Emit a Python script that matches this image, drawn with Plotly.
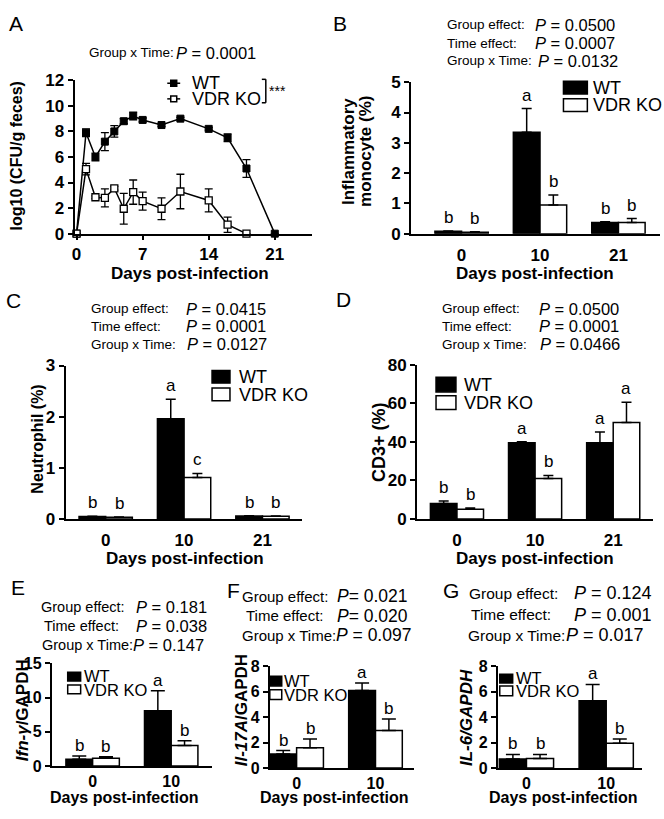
import plotly.graph_objects as go

W, H = 664, 819
FONT = "Liberation Sans, Arial, sans-serif"

# ---- A: fecal shedding, log10 CFU/g feces ----
cfu_days_wt = [0, 1, 2, 3, 4, 5, 6, 7, 9, 11, 14, 16, 18, 21]
cfu_wt = [0, 7.9, 6.0, 7.2, 8.0, 8.8, 9.2, 8.9, 8.5, 9.0, 8.2, 7.5, 5.1, 0]
cfu_wt_err = [0, 0.3, 0.3, 0.7, 0.45, 0.2, 0.3, 0.15, 0.1, 0.1, 0.1, 0.3, 0.7, 0]
cfu_days_ko = [0, 1, 2, 3, 4, 5, 6, 7, 9, 11, 14, 16, 18]
cfu_ko = [0, 5.05, 2.85, 2.8, 3.55, 1.95, 3.25, 2.55, 1.95, 3.3, 2.6, 0.7, 0]
cfu_ko_err = [0, 0.45, 0.1, 0.7, 0.15, 1.2, 0.95, 0.7, 0.85, 1.35, 0.9, 0.6, 0]

days3 = ["0", "10", "21"]
days2 = ["0", "10"]

# ---- B: inflammatory monocytes (%) ----
mono_wt = [0.08, 3.35, 0.37]
mono_wt_err = [0.01, 0.78, 0.02]
mono_ko = [0.05, 0.95, 0.37]
mono_ko_err = [0.01, 0.33, 0.13]
mono_wt_sig = ["b", "a", "b"]
mono_ko_sig = ["b", "b", "b"]

# ---- C: neutrophils (%) ----
neut_wt = [0.045, 1.96, 0.055]
neut_wt_err = [0.005, 0.38, 0.005]
neut_ko = [0.03, 0.81, 0.05]
neut_ko_err = [0.005, 0.08, 0.005]
neut_wt_sig = ["b", "a", "b"]
neut_ko_sig = ["b", "c", "b"]

# ---- D: CD3+ (%) ----
cd3_wt = [8.0, 39.5, 39.5]
cd3_wt_err = [1.3, 0.5, 5.5]
cd3_ko = [5.0, 21.0, 50.0]
cd3_ko_err = [0.6, 1.5, 10.5]
cd3_wt_sig = ["b", "a", "a"]
cd3_ko_sig = ["b", "b", "a"]

# ---- E-G: qPCR relative to GAPDH ----
ifng_wt = [1.0, 8.1]
ifng_wt_err = [0.45, 2.9]
ifng_ko = [1.15, 3.0]
ifng_ko_err = [0.2, 0.7]
il17_wt = [1.1, 6.1]
il17_wt_err = [0.27, 0.6]
il17_ko = [1.6, 2.95]
il17_ko_err = [0.68, 0.9]
il6_wt = [0.7, 5.3]
il6_wt_err = [0.37, 1.28]
il6_ko = [0.75, 1.95]
il6_ko_err = [0.32, 0.33]
pcr_wt_sig = ["b", "a"]
pcr_ko_sig = ["b", "b"]

stat_labels = ["Group effect:", "Time effect:", "Group x Time:"]
a_stat = "0.0001"
b_stats = ["0.0500", "0.0007", "0.0132"]
c_stats = ["0.0415", "0.0001", "0.0127"]
d_stats = ["0.0500", "0.0001", "0.0466"]
e_stats = ["0.181", "0.038", "0.147"]
f_stats = ["0.021", "0.020", "0.097"]
g_stats = ["0.124", "0.001", "0.017"]


def px2x(v):
    return v / W


def px2y(v):
    return 1 - v / H


fig = go.Figure()
axes = {}
annotations = []
shapes = []


def text(x, y, s, size, xanchor="center", yanchor="middle", bold=False, angle=0):
    annotations.append(dict(
        x=px2x(x), y=px2y(y), xref="paper", yref="paper", text=s, showarrow=False,
        xanchor=xanchor, yanchor=yanchor, textangle=angle, borderpad=0,
        font=dict(family=FONT, size=size, color="black", weight="bold" if bold else "normal")))


def rect(x0, y0, x1, y1, fill):
    shapes.append(dict(type="rect", xref="paper", yref="paper",
                       x0=px2x(x0), x1=px2x(x1), y0=px2y(y0), y1=px2y(y1),
                       fillcolor=fill, line=dict(color="black", width=1.5)))


def line(x0, y0, x1, y1, w=1.5):
    shapes.append(dict(type="line", xref="paper", yref="paper",
                       x0=px2x(x0), x1=px2x(x1), y0=px2y(y0), y1=px2y(y1),
                       line=dict(color="black", width=w)))


def make_axes(n, xpx, ypx, xrange, yrange, ytick, xtickvals, xticktext, xticklen, xticks_on,
              tsize=17):
    sfx = "" if n == 1 else str(n)
    common = dict(showline=True, linecolor="black", linewidth=2, showgrid=False, zeroline=False,
                  ticks="outside", tickwidth=2,
                  tickfont=dict(family=FONT, size=tsize, color="black", weight="bold"))
    axes["xaxis" + sfx] = dict(common, domain=[px2x(xpx[0]), px2x(xpx[1])], range=xrange,
                               anchor="y" + sfx, tickvals=xtickvals, ticktext=xticktext,
                               ticklen=xticklen,
                               tickcolor="black" if xticks_on else "rgba(0,0,0,0)")
    axes["yaxis" + sfx] = dict(common, domain=[px2y(ypx[1]), px2y(ypx[0])], range=yrange,
                               anchor="x" + sfx, tickvals=ytick, ticklen=5, tickcolor="black")
    return "x" + sfx, "y" + sfx


# ---------- panel A ----------
xa, ya = make_axes(1, (72, 310), (73, 230), [-0.2, 24.9], [0, 12], list(range(0, 13, 2)),
                   [0, 7, 14, 21], ["0", "7", "14", "21"], 4, True)
fig.add_trace(go.Scatter(
    x=cfu_days_wt, y=cfu_wt, xaxis=xa, yaxis=ya, mode="lines+markers", cliponaxis=False,
    line=dict(color="black", width=1.5),
    marker=dict(symbol="square", size=7, color="black", line=dict(color="black", width=1)),
    error_y=dict(type="data", array=cfu_wt_err, color="black", thickness=1.3, width=4)))
fig.add_trace(go.Scatter(
    x=cfu_days_ko, y=cfu_ko, xaxis=xa, yaxis=ya, mode="lines+markers", cliponaxis=False,
    line=dict(color="black", width=1.5),
    marker=dict(symbol="square", size=7, color="white", line=dict(color="black", width=1.3)),
    error_y=dict(type="data", array=cfu_ko_err, color="black", thickness=1.3, width=4)))

# ---------- bar panels ----------
OFF = 0.17


def bar_panel(n, xpx, ypx, xrange, yrange, ytick, days, wt, wt_err, ko, ko_err,
              wt_sig, ko_sig, cap, sig_shift, xticklen, tsize):
    pos = list(range(len(days)))
    xa, ya = make_axes(n, xpx, ypx, xrange, yrange, ytick, pos, days, xticklen, False, tsize)
    for vals, err, fill in ((wt, wt_err, "black"), (ko, ko_err, "white")):
        fig.add_trace(go.Bar(
            x=pos, y=vals, xaxis=xa, yaxis=ya,
            marker=dict(color=fill, line=dict(color="black", width=1.5)),
            error_y=dict(type="data", symmetric=False, array=err, arrayminus=[0] * len(err),
                         color="black", thickness=1.5, width=cap)))
    for vals, err, sig, d in ((wt, wt_err, wt_sig, -OFF), (ko, ko_err, ko_sig, OFF)):
        for i, s in enumerate(sig):
            annotations.append(dict(
                x=i + d, y=vals[i] + err[i], xref=xa, yref=ya, text=s, showarrow=False,
                xanchor="center", yanchor="bottom", yshift=sig_shift, borderpad=0,
                font=dict(family=FONT, size=17, color="black")))


bar_panel(2, (410, 660), (75, 230), [-0.643, 2.53], [0, 5], [0, 1, 2, 3, 4, 5], days3,
          mono_wt, mono_wt_err, mono_ko, mono_ko_err, mono_wt_sig, mono_ko_sig, 5, 3, 5, 17)
bar_panel(3, (63, 300), (365, 522), [-0.51, 2.5], [0, 3], [0, 1, 2, 3], days3,
          neut_wt, neut_wt_err, neut_ko, neut_ko_err, neut_wt_sig, neut_ko_sig, 5, 3, 5, 17)
bar_panel(4, (416, 653), (364, 522), [-0.51, 2.51], [0, 80], [0, 20, 40, 60, 80], days3,
          cd3_wt, cd3_wt_err, cd3_ko, cd3_ko_err, cd3_wt_sig, cd3_ko_sig, 5, 3, 5, 17)
bar_panel(5, (49, 210), (670, 775), [-0.52, 1.52], [0, 15], [0, 5, 10, 15], days2,
          ifng_wt, ifng_wt_err, ifng_ko, ifng_ko_err, pcr_wt_sig, pcr_ko_sig, 7, 0, 0, 16)
bar_panel(6, (268, 413), (673, 777), [-0.34, 1.49], [0, 8], [0, 2, 4, 6, 8], days2,
          il17_wt, il17_wt_err, il17_ko, il17_ko_err, pcr_wt_sig, pcr_ko_sig, 7, 0, 0, 16)
bar_panel(7, (497, 642), (673, 777), [-0.36, 1.45], [0, 8], [0, 2, 4, 6, 8], days2,
          il6_wt, il6_wt_err, il6_ko, il6_ko_err, pcr_wt_sig, pcr_ko_sig, 7, 0, 0, 16)

# ---------- panel letters ----------
for s, x, y in (("A", 13, 15), ("B", 339, 15), ("C", 11, 298), ("D", 342, 297),
                ("E", 15, 592), ("F", 232, 595), ("G", 450, 595)):
    text(x, y, s, 21)

# ---------- statistics text ----------
text(85, 45, "Group x Time:", 13.5, xanchor="left")
text(173, 45, "<i>P</i> = " + a_stat, 16.5, xanchor="left")


def stats(vals, lx, vx, ys, lsize, vsize, eqs=(" = ", " = ", " = ")):
    for i, lab in enumerate(stat_labels):
        text(lx[i], ys[i], lab, lsize, xanchor="left")
        text(vx[i], ys[i], "<i>P</i>" + eqs[i] + vals[i], vsize, xanchor="left")


stats(b_stats, [445] * 3, [533, 533, 536], [16, 35, 53], 13.5, 16.5)
stats(c_stats, [87] * 3, [183, 183, 184], [307, 325, 343], 13.5, 16.5)
stats(d_stats, [440] * 3, [537, 537, 538], [307, 325, 343], 13.5, 16.5)
stats(e_stats, [37, 40, 38], [133, 133, 130], [612, 632, 651], 14.5, 16.5)
stats(f_stats, [239, 243, 239], [335, 335, 334], [601, 621, 641], 15, 17.5, ("= ", "= ", " = "))
stats(g_stats, [467, 469, 466], [573, 573, 565], [598, 620, 641], 15.5, 18)

# ---------- axis titles ----------
text(14, 150, "log10 (CFU/g feces)", 16, bold=True, angle=-90)
text(347, 146, "Inflammatory", 17, bold=True, angle=-90)
text(364, 146, "monocyte (%)", 17, bold=True, angle=-90)
text(35, 440, "Neutrophil (%)", 16, bold=True, angle=-90)
text(377, 443, "CD3+ (%)", 18, bold=True, angle=-90)
text(19, 718, "<i>Ifn-γ</i>/GAPDH", 17, bold=True, angle=-90)
text(239, 718, "<i>Il-17A</i>/GAPDH", 17, bold=True, angle=-90)
text(465, 725, "<i>IL-6/GAPDH</i>", 17, bold=True, angle=-90)
for x, y, sz in ((188, 271, 17), (534, 271, 17), (183, 563, 17), (534, 563, 17),
                 (122, 807, 16), (333, 807, 16), (563, 807, 16)):
    text(x, y, "Days post-infection", sz, bold=True)

# ---------- legends ----------
# A: line + square markers, bracket with ***
line(165, 76, 178, 76)
rect(168.5, 73, 174.5, 79, "black")
line(165, 92, 178, 92)
rect(168.5, 89, 174.5, 95, "white")
text(189, 76, "WT", 18, xanchor="left")
text(189, 92, "VDR KO", 18, xanchor="left")
line(264, 72, 264, 96)
line(260, 72, 264, 72)
line(260, 96, 264, 96)
text(266, 84, "***", 14, xanchor="left")

for bx0, bx1, b1, b2, tx, t1, t2, sz in (
        (563, 587, (74, 87), (92, 105), 592, 81, 98, 18),
        (210, 228, (370, 383), (388, 401), 236, 377, 395, 18),
        (435, 455, (377, 392), (396, 410), 462, 385, 403, 18),
        (65, 78, (679, 688), (692, 701), 80, 683, 697, 16.5),
        (268, 280, (683, 693), (697, 707), 281, 688, 702, 16.5),
        (499, 512, (681, 690), (693, 703), 514, 685, 698, 16.5)):
    rect(bx0, b1[0], bx1, b1[1], "black")
    rect(bx0, b2[0], bx1, b2[1], "white")
    text(tx, t1, "WT", sz, xanchor="left")
    text(tx, t2, "VDR KO", sz, xanchor="left")

fig.update_layout(
    width=W, height=H, margin=dict(l=0, r=0, t=0, b=0), autosize=False,
    paper_bgcolor="white", plot_bgcolor="white", showlegend=False,
    barmode="group", bargap=0.32, bargroupgap=0,
    annotations=annotations, shapes=shapes, **axes)

fig.write_html("out.html", config={"displayModeBar": False, "responsive": False},
               post_script="document.body.style.margin='0';")
